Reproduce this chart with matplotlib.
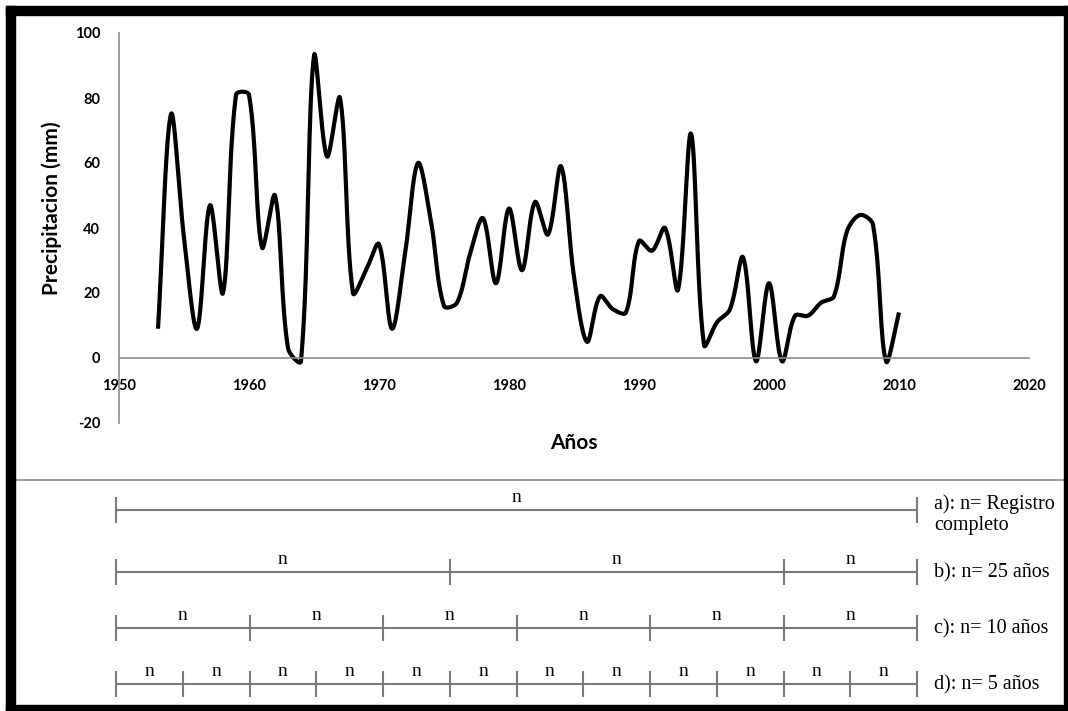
import numpy as np
import matplotlib
matplotlib.use('Agg')
import matplotlib.pyplot as plt
import matplotlib.patches as patches

plt.rcParams['axes.unicode_minus'] = False

# yearly precipitation
years = list(range(1953, 2011))
precip = [9, 75, 37, 9, 47, 20, 81, 81, 34, 50,
          3, -1, 93, 62, 80, 20, 27, 35, 9, 32,
          60, 42, 16, 17, 32, 43, 23, 46, 27, 48,
          38, 59, 25, 5, 19, 15, 14, 36, 33, 40,
          21, 69, 4, 11, 15, 31, -1, 23, -1, 13,
          13, 17, 19, 39, 44, 41, -1, 14]

x_ticks = [1950, 1960, 1970, 1980, 1990, 2000, 2010, 2020]
y_ticks = [-20, 0, 20, 40, 60, 80, 100]

# subdivision diagram: (label, block length in years)
rows = [("a): n= Registro\ncompleto", 60),
        ("b): n= 25 años", 25),
        ("c): n= 10 años", 10),
        ("d): n= 5 años", 5)]
rec_start, rec_end = 1950, 2010


def smooth_line(x, y, sx=13.0, sy=3.25, n=30):
    """Excel-style smoothed line: bezier with chord-weighted control points,
    computed in (approximate) screen space to avoid overshoot."""
    p = np.column_stack([np.asarray(x) * sx, np.asarray(y) * sy]).astype(float)
    m = len(p)
    d = np.linalg.norm(np.diff(p, axis=0), axis=1)
    fwd = np.zeros_like(p)
    bwd = np.zeros_like(p)
    for i in range(m):
        prev = p[i - 1] if i > 0 else p[i]
        nxt = p[i + 1] if i < m - 1 else p[i]
        v = nxt - prev
        dl = d[i - 1] if i > 0 else 0.0
        dr = d[i] if i < m - 1 else 0.0
        tot = dl + dr
        fwd[i] = p[i] + v * (dr / tot) / 3
        bwd[i] = p[i] - v * (dl / tot) / 3
    t = np.linspace(0, 1, n, endpoint=False)[:, None]
    out = []
    for i in range(m - 1):
        p0, c1, c2, p3 = p[i], fwd[i], bwd[i + 1], p[i + 1]
        seg = ((1 - t) ** 3) * p0 + 3 * ((1 - t) ** 2) * t * c1 \
            + 3 * (1 - t) * t ** 2 * c2 + t ** 3 * p3
        out.append(seg)
    out.append(p[-1][None, :])
    out = np.vstack(out)
    return out[:, 0] / sx, out[:, 1] / sy


W, H = 1068, 711
fig = plt.figure(figsize=(W / 100, H / 100), dpi=100)
fig.patch.set_facecolor('white')

# ---- top chart ----
ax = fig.add_axes([119 / W, 1 - 423 / H, 910 / W, 390 / H])
lx, ly = smooth_line(years, precip)
ax.plot(lx, ly, color='black', lw=3.0, solid_capstyle='butt', solid_joinstyle='round')

ax.set_xlim(1950, 2020)
ax.set_ylim(-20, 100)
ax.set_xticks(x_ticks)
ax.set_yticks(y_ticks)
for s in ['top', 'right']:
    ax.spines[s].set_visible(False)
ax.spines['bottom'].set_position(('data', 0))
for s in ['bottom', 'left']:
    ax.spines[s].set_color('#8c8c8c')
    ax.spines[s].set_linewidth(1.2)
ax.tick_params(length=0, labelsize=10.5)
ax.tick_params(axis='y', pad=13.5)
ax.tick_params(axis='x', pad=15)
for lab in ax.get_xticklabels() + ax.get_yticklabels():
    lab.set_fontfamily('Lato')
    lab.set_fontweight('bold')
ax.patch.set_alpha(0)

ax.set_ylabel("Precipitacion (mm)", fontsize=15, fontweight='bold', family='Lato')
ax.yaxis.set_label_coords(-0.063, 0.55)
ax.set_xlabel("Años", fontsize=15, fontweight='bold', family='Lato')
ax.xaxis.set_label_coords(0.5, -0.025)

# ---- subdivision diagram (years on x, pixel rows on y) ----
px_per_year = 66.75 / 5
x0 = 1950 - 116 / px_per_year
dg = fig.add_axes([0, 0, 1, 1])
dg.set_xlim(x0, x0 + W / px_per_year)
dg.set_ylim(H, 0)
dg.axis('off')
dg.patch.set_alpha(0)

row_y = [510, 572, 628, 684]
tick_h = 13
for (label, step), yy in zip(rows, row_y):
    bounds = list(range(rec_start, rec_end, step)) + [rec_end]
    dg.hlines(yy, rec_start, rec_end, color='#7a7a7a', lw=1.5)
    dg.vlines(bounds, yy - tick_h, yy + tick_h, color='#7a7a7a', lw=1.5)
    for a, b in zip(bounds[:-1], bounds[1:]):
        dg.text((a + b) / 2, yy - 13, "n", ha='center', va='center',
                fontsize=14, family='Liberation Serif')
    dg.text(rec_end + 1.3, yy + (5 if "\n" in label else 1), label, ha='left', va='center',
            fontsize=14.5, family='Liberation Serif', linespacing=1.15)

# separator and frame
dg.add_line(plt.Line2D([15 / W, 1064 / W], [1 - 480 / H, 1 - 480 / H],
                       transform=fig.transFigure, color='#9a9a9a', lw=1.5))
for (x, y, w, h) in [(6, 6, 9, 705), (6, 6, 1062, 9), (1064, 6, 4, 705), (6, 705, 1062, 6)]:
    fig.patches.append(patches.Rectangle((x / W, 1 - (y + h) / H), w / W, h / H,
                                         transform=fig.transFigure, color='black'))

plt.savefig("out.png", dpi=100)
plt.close()
